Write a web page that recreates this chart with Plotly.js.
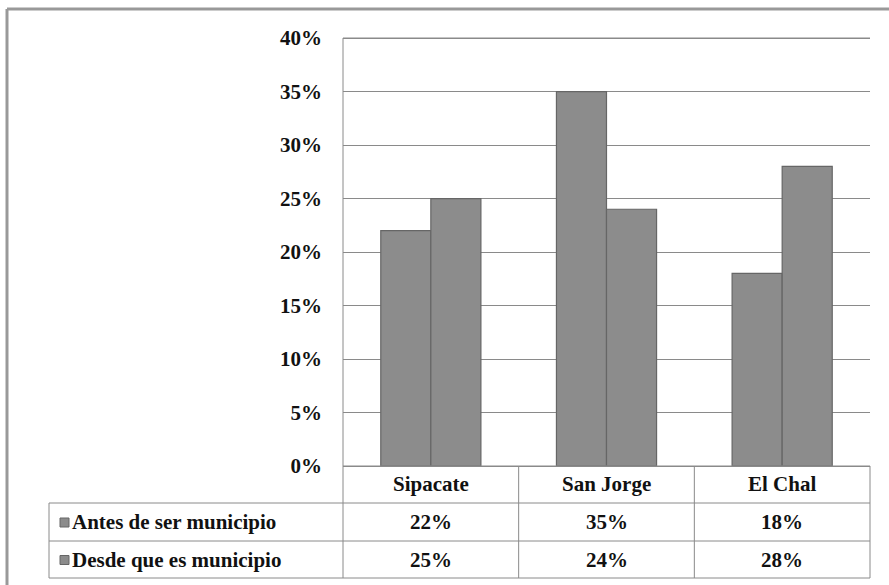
<!DOCTYPE html>
<html>
<head>
<meta charset="utf-8">
<script src="https://cdn.plot.ly/plotly-3.0.1.min.js"></script>
<style>html,body{margin:0;padding:0;background:#fff;}#chart{width:889px;height:585px;}</style>
</head>
<body>
<div id="chart"></div>
<script>
const categories = ["Sipacate", "San Jorge", "El Chal"];
const seriesNames = ["Antes de ser municipio", "Desde que es municipio"];
const antes = [0.22, 0.35, 0.18];
const desde = [0.25, 0.24, 0.28];
const tickVals = [0, 0.05, 0.10, 0.15, 0.20, 0.25, 0.30, 0.35, 0.40];
const tickText = ["0%", "5%", "10%", "15%", "20%", "25%", "30%", "35%", "40%"];

const W = 889, H = 585;
const L = 343, R = 870, T = 37, B = 466;
const FONT = "Liberation Serif";
const px = x => (x - L) / (R - L);
const py = y => (B - y) / (B - T);
const GRID = "#8a8a8a";

const barStyle = {color: "#8c8c8c", line: {color: "#666666", width: 1.2}};
const traces = [
  {type: "bar", x: categories, y: antes, name: seriesNames[0], marker: barStyle, hoverinfo: "x+y"},
  {type: "bar", x: categories, y: desde, name: seriesNames[1], marker: barStyle, hoverinfo: "x+y"}
];

// table geometry (pixels)
const rowY = [466, 503, 541, 578];
const labelX = 49;
const colX = [L, L + (R - L) / 3, L + 2 * (R - L) / 3, R];

const shapes = [];
function line(x0, y0, x1, y1, color, w) {
  shapes.push({type: "line", xref: "paper", yref: "paper",
    x0: px(x0), y0: py(y0), x1: px(x1), y1: py(y1),
    line: {color: color || GRID, width: w || 1}});
}
// outer border
line(7, 9, 900, 9, "#999999", 3);
line(7, 9, 7, 600, "#999999", 3);
// top gridline
line(L, 38, R, 38);
// table lines
line(labelX, rowY[1], R, rowY[1]);
line(labelX, rowY[2], R, rowY[2]);
line(labelX, rowY[3], R, rowY[3]);
line(L, rowY[0], R, rowY[0]);
line(labelX, rowY[1], labelX, rowY[3]);
line(L, 38, L, rowY[3]);
for (let i = 1; i < colX.length; i++) line(colX[i], rowY[0], colX[i], rowY[3]);

const annotations = [];
const tf = {family: FONT, size: 21, color: "#111111", weight: "bold"};
function text(t, x, y, anchor) {
  annotations.push({text: t, xref: "paper", yref: "paper",
    x: px(x), y: py(y), xanchor: anchor || "center", yanchor: "middle",
    showarrow: false, font: tf});
}
categories.forEach((c, i) => text(c, (colX[i] + colX[i + 1]) / 2, (rowY[0] + rowY[1]) / 2));
const rows = [antes, desde];
rows.forEach((vals, r) => {
  const yc = (rowY[r + 1] + rowY[r + 2]) / 2;
  text(seriesNames[r], 70, yc, "left");
  vals.forEach((v, i) => text(Math.round(v * 100) + "%", (colX[i] + colX[i + 1]) / 2, yc));
  shapes.push({type: "rect", xref: "paper", yref: "paper",
    x0: px(60), x1: px(69), y0: py(yc - 4), y1: py(yc + 5),
    fillcolor: "#8c8c8c", line: {color: "#666666", width: 1}});
});

const layout = {
  width: W, height: H,
  margin: {l: L, r: W - R, t: T, b: H - B, pad: 0},
  paper_bgcolor: "#ffffff", plot_bgcolor: "#ffffff",
  showlegend: false,
  barmode: "group", bargap: 0.43, bargroupgap: 0,
  xaxis: {type: "category", showticklabels: false, showgrid: false, zeroline: false,
          showline: false, ticks: ""},
  yaxis: {range: [0, 0.401], tickvals: tickVals, ticktext: tickText,
          showgrid: true, gridcolor: GRID, gridwidth: 1,
          zeroline: true, zerolinecolor: GRID, zerolinewidth: 1,
          showline: false, ticks: "", ticklabelstandoff: 20,
          tickfont: {family: FONT, size: 21, color: "#111111", weight: "bold"}},
  shapes: shapes,
  annotations: annotations
};

Plotly.newPlot("chart", traces, layout, {displayModeBar: false, staticPlot: true});
</script>
</body>
</html>
